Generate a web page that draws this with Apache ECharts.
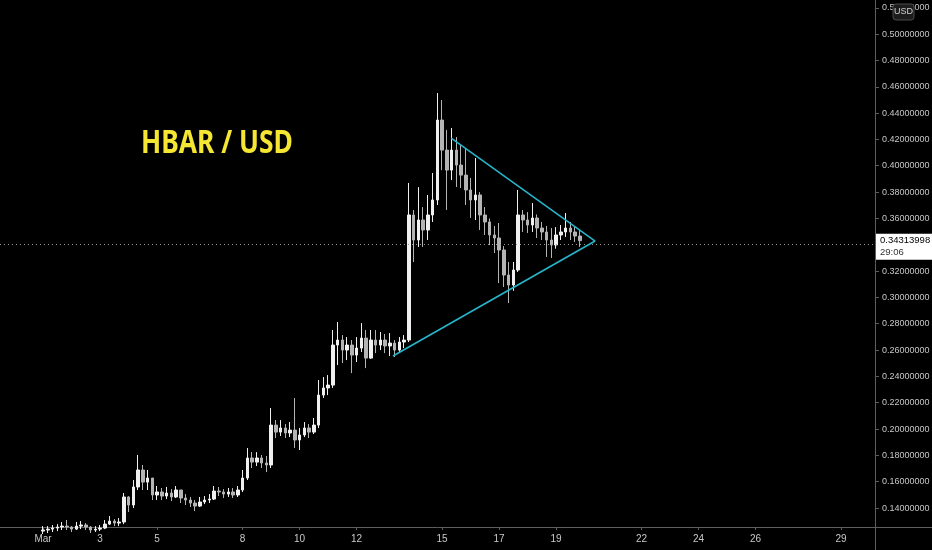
<!DOCTYPE html>
<html><head><meta charset="utf-8">
<script src="https://cdn.jsdelivr.net/npm/echarts@6/dist/echarts.min.js"></script>
<style>html,body{margin:0;padding:0;background:#000;}#c{width:932px;height:550px;}</style>
</head><body><div id="c"></div>
<script>
// ---- data (4-hour candles) ----
const candleStartDay = 1;          // March 1, 00:00 (x value = day of March)
const candleStepDays = 4 / 24;     // 4-hour candles
const opens = [
0.1225,0.1233,0.1240,0.1248,0.1256,0.1263,0.1256,0.1240,0.1263,0.1271,0.1256,0.1233,0.1240,0.1248,0.1278,0.1301,0.1286,0.1294,
0.1484,0.1423,0.1560,0.1689,0.1597,0.1628,0.1499,0.1522,0.1491,0.1514,0.1484,0.1537,0.1476,0.1461,0.1438,0.1415,0.1446,0.1461,
0.1468,0.1529,0.1522,0.1506,0.1522,0.1499,0.1537,0.1628,0.1780,0.1749,0.1780,0.1742,0.1727,0.2030,0.1977,0.2008,0.1970,0.1992,
0.1917,0.1955,0.2008,0.1977,0.2030,0.2258,0.2312,0.2334,0.2638,0.2676,0.2600,0.2638,0.2562,0.2615,0.2691,0.2539,0.2676,0.2638,
0.2676,0.2631,0.2653,0.2600,0.2661,0.2676,0.3626,0.3436,0.3588,0.3512,0.3626,0.3740,0.4347,0.4119,0.3967,0.4119,0.4005,0.3929,
0.3816,0.3740,0.3778,0.3626,0.3573,0.3474,0.3451,0.3360,0.3170,0.3094,0.3208,0.3626,0.3588,0.3550,0.3603,0.3527,0.3497,0.3436,
0.3398,0.3474,0.3497,0.3527,0.3497,0.3466];
const closes = [
0.1233,0.1240,0.1248,0.1256,0.1263,0.1256,0.1240,0.1263,0.1271,0.1256,0.1233,0.1240,0.1248,0.1278,0.1301,0.1286,0.1294,0.1484,
0.1423,0.1560,0.1689,0.1597,0.1628,0.1499,0.1522,0.1491,0.1514,0.1484,0.1537,0.1476,0.1461,0.1438,0.1415,0.1446,0.1461,0.1468,
0.1529,0.1522,0.1506,0.1522,0.1499,0.1537,0.1628,0.1780,0.1749,0.1780,0.1742,0.1727,0.2030,0.1977,0.2008,0.1970,0.1992,0.1917,
0.1955,0.2008,0.1977,0.2030,0.2258,0.2312,0.2334,0.2638,0.2676,0.2600,0.2638,0.2562,0.2615,0.2691,0.2539,0.2676,0.2638,0.2676,
0.2631,0.2653,0.2600,0.2661,0.2676,0.3626,0.3436,0.3588,0.3512,0.3626,0.3740,0.4347,0.4119,0.3967,0.4119,0.4005,0.3929,0.3816,
0.3740,0.3778,0.3626,0.3573,0.3474,0.3451,0.3360,0.3170,0.3094,0.3208,0.3626,0.3588,0.3550,0.3603,0.3527,0.3497,0.3436,0.3398,
0.3474,0.3497,0.3527,0.3497,0.3466,0.3431];
const highs = [
0.1263,0.1263,0.1271,0.1278,0.1294,0.1309,0.1263,0.1294,0.1301,0.1286,0.1263,0.1263,0.1271,0.1309,0.1339,0.1316,0.1324,0.1514,
0.1491,0.1613,0.1803,0.1727,0.1689,0.1628,0.1567,0.1552,0.1560,0.1544,0.1567,0.1537,0.1506,0.1484,0.1461,0.1484,0.1491,0.1506,
0.1567,0.1560,0.1544,0.1552,0.1552,0.1567,0.1689,0.1856,0.1825,0.1825,0.1803,0.1795,0.2160,0.2068,0.2068,0.2038,0.2053,0.2236,
0.2008,0.2053,0.2038,0.2084,0.2372,0.2395,0.2410,0.2752,0.2813,0.2714,0.2699,0.2676,0.2699,0.2805,0.2752,0.2752,0.2752,0.2737,
0.2722,0.2729,0.2676,0.2699,0.2714,0.3869,0.3664,0.3838,0.3686,0.3778,0.3945,0.4552,0.4499,0.4271,0.4287,0.4218,0.4157,0.4135,
0.3907,0.4059,0.3800,0.3686,0.3600,0.3542,0.3565,0.3390,0.3269,0.3269,0.3816,0.3664,0.3648,0.3717,0.3630,0.3573,0.3542,0.3527,
0.3534,0.3550,0.3641,0.3573,0.3542,0.3512];
const lows = [
0.1203,0.1210,0.1218,0.1225,0.1233,0.1233,0.1218,0.1233,0.1240,0.1233,0.1210,0.1218,0.1225,0.1240,0.1271,0.1263,0.1263,0.1278,
0.1370,0.1400,0.1537,0.1537,0.1537,0.1461,0.1461,0.1461,0.1468,0.1453,0.1476,0.1438,0.1423,0.1408,0.1377,0.1408,0.1430,0.1438,
0.1461,0.1491,0.1476,0.1484,0.1476,0.1484,0.1522,0.1613,0.1704,0.1719,0.1704,0.1673,0.1704,0.1932,0.1947,0.1932,0.1939,0.1856,
0.1841,0.1939,0.1932,0.1962,0.2008,0.2236,0.2258,0.2312,0.2486,0.2501,0.2524,0.2425,0.2509,0.2585,0.2463,0.2532,0.2577,0.2600,
0.2577,0.2555,0.2547,0.2585,0.2615,0.2661,0.3269,0.3383,0.3383,0.3436,0.3573,0.3702,0.3967,0.3664,0.3891,0.3838,0.3831,0.3702,
0.3603,0.3588,0.3512,0.3474,0.3398,0.3337,0.3109,0.3079,0.2957,0.3050,0.3193,0.3497,0.3489,0.3497,0.3451,0.3436,0.3307,0.3299,
0.3370,0.3436,0.3459,0.3436,0.3421,0.3383];
const upperTrend = [[15.32, 0.4210], [20.37, 0.3428]];
const lowerTrend = [[13.28, 0.2555], [20.37, 0.3428]];
const lastPriceText = '0.34313998';
const countdownText = '29:06';
const xTickDays = [1, 3, 5, 8, 10, 12, 15, 17, 19, 22, 24, 26, 29];
const xTickLabels = ['Mar', '3', '5', '8', '10', '12', '15', '17', '19', '22', '24', '26', '29'];
const yTicks = [0.14, 0.16, 0.18, 0.20, 0.22, 0.24, 0.26, 0.28, 0.30, 0.32, 0.34, 0.36, 0.38, 0.40, 0.42, 0.44, 0.46, 0.48, 0.50, 0.52];
const yTickLabelsShown = yTicks.filter(v => Math.abs(v - 0.34) > 1e-9);
const chartTitle = 'HBAR / USD';

// ---- chart ----
const candleData = closes.map((c, i) => [candleStartDay + i * candleStepDays, opens[i], c, lows[i], highs[i]]);
const lastClose = closes[closes.length - 1];
const axisCol = '#5e5e5e';
const textCol = '#c8c8c8';
const GRID = {left: 0, right: 57, top: 0, bottom: 23};

const chart = echarts.init(document.getElementById('c'), null, {renderer: 'canvas'});
chart.setOption({
  animation: false,
  backgroundColor: '#000000',
  grid: Object.assign({outerBoundsMode: 'none', containLabel: false}, GRID),
  xAxis: {
    type: 'value', min: -0.509, max: 30.19,
    splitLine: {show: false},
    axisLine: {show: true, onZero: false, lineStyle: {color: axisCol, width: 1}},
    axisTick: {show: true, length: 3, lineStyle: {color: axisCol}, customValues: xTickDays},
    axisLabel: {
      show: true, color: textCol, fontSize: 10, fontFamily: 'Liberation Sans', margin: 7,
      customValues: xTickDays,
      formatter: v => { const k = xTickDays.indexOf(Math.round(v)); return k >= 0 ? xTickLabels[k] : ''; }
    }
  },
  yAxis: {
    type: 'value', position: 'right', min: 0.1256, max: 0.5259,
    splitLine: {show: false},
    axisLine: {show: true, onZero: false, lineStyle: {color: axisCol, width: 1}},
    axisTick: {show: true, length: 4, lineStyle: {color: axisCol}, customValues: yTickLabelsShown},
    axisLabel: {
      show: true, color: textCol, fontSize: 9, fontFamily: 'Liberation Sans', margin: 7,
      customValues: yTickLabelsShown,
      formatter: v => v.toFixed(8)
    }
  },
  series: [
    {
      type: 'candlestick', data: candleData,
      encode: {x: 0, y: [1, 2, 3, 4]},
      barWidth: 3,
      itemStyle: {color: '#f0f0f0', color0: '#b4b4b4', borderColor: '#f0f0f0', borderColor0: '#b4b4b4', borderWidth: 1},
      markLine: {
        silent: true, symbol: ['none', 'none'],
        label: {show: false},
        lineStyle: {type: [1, 3], color: '#9a9a9a', width: 1},
        data: [{yAxis: lastClose}]
      },
      z: 2
    },
    {type: 'line', data: upperTrend, showSymbol: false, symbol: 'none', lineStyle: {color: '#27b5cb', width: 1.6}, z: 5, silent: true},
    {type: 'line', data: lowerTrend, showSymbol: false, symbol: 'none', lineStyle: {color: '#27b5cb', width: 1.6}, z: 5, silent: true}
  ]
});

const py = chart.convertToPixel({yAxisIndex: 0}, lastClose);
const axX = 932 - GRID.right;
const axY = 550 - GRID.bottom;
chart.setOption({
  graphic: [
    {type: 'line', shape: {x1: axX, y1: axY + 0.5, x2: 932, y2: axY + 0.5}, style: {stroke: axisCol, lineWidth: 1}, z: 10},
    {type: 'line', shape: {x1: axX + 0.5, y1: axY, x2: axX + 0.5, y2: 550}, style: {stroke: axisCol, lineWidth: 1}, z: 10},
    {type: 'text', x: 141, y: 127, scaleX: 0.8, z: 20,
     style: {text: chartTitle, fill: '#f4e632', font: 'bold 33px "Noto Sans"', textVerticalAlign: 'top'}},
    {type: 'rect', shape: {x: 893, y: 4, width: 21, height: 16, r: 3}, style: {fill: '#1c1c1c', stroke: '#4a4a4a', lineWidth: 1}, z: 20},
    {type: 'text', x: 903.5, y: 12, z: 21, style: {text: 'USD', fill: '#d0d0d0', font: '9px "Liberation Sans"', textAlign: 'center', textVerticalAlign: 'middle'}},
    {type: 'rect', shape: {x: axX + 1, y: py - 7, width: 932 - axX - 1, height: 26}, style: {fill: '#ffffff'}, z: 20},
    {type: 'text', x: axX + 5, y: py, z: 21, style: {text: lastPriceText, fill: '#000000', font: '9.5px "Liberation Sans"', textVerticalAlign: 'middle'}},
    {type: 'text', x: axX + 5, y: py + 12, z: 21, style: {text: countdownText, fill: '#333333', font: '9.5px "Liberation Sans"', textVerticalAlign: 'middle'}}
  ]
});
</script></body></html>
